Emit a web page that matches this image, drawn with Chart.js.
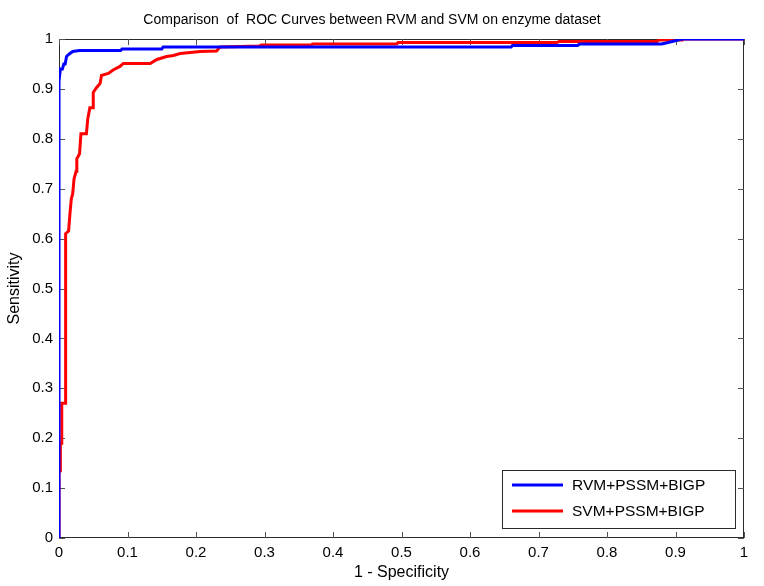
<!DOCTYPE html>
<html>
<head>
<meta charset="utf-8">
<script src="https://cdn.jsdelivr.net/npm/chart.js"></script>
<style>
  html, body { margin: 0; padding: 0; background: #fff; }
  .container { width: 764px; height: 586px; position: relative; }
</style>
</head>
<body>
<div class="container"><canvas id="myChart"></canvas></div>
<script>
const titleText = 'Comparison  of  ROC Curves between RVM and SVM on enzyme dataset';
const seriesNames = ['RVM+PSSM+BIGP', 'SVM+PSSM+BIGP'];
const tickLabels = ['0', '0.1', '0.2', '0.3', '0.4', '0.5', '0.6', '0.7', '0.8', '0.9', '1'];

// RVM curve (false positive rate / true positive rate)
const rvmFpr = [0, 0, 0.002, 0.005, 0.007, 0.009, 0.011, 0.015, 0.02, 0.03, 0.09, 0.092, 0.15, 0.152, 0.66, 0.662, 0.757, 0.76, 0.88, 0.895, 0.91, 1];
const rvmTpr = [0, 0.915, 0.94, 0.94, 0.95, 0.95, 0.965, 0.97, 0.975, 0.977, 0.977, 0.98, 0.98, 0.984, 0.984, 0.987, 0.987, 0.99, 0.99, 0.995, 1, 1];

// SVM curve
const svmFpr = [0, 0, 0.002, 0.002, 0.004, 0.004, 0.009, 0.009, 0.01, 0.01, 0.014, 0.016, 0.018, 0.02, 0.022, 0.025, 0.026, 0.03, 0.032, 0.04, 0.042, 0.045, 0.05, 0.05, 0.055, 0.06, 0.062, 0.072, 0.079, 0.089, 0.094, 0.133, 0.143, 0.157, 0.167, 0.177, 0.206, 0.23, 0.235, 0.293, 0.295, 0.369, 0.37, 0.493, 0.495, 0.727, 0.73, 0.873, 0.875, 0.91, 0.912, 1];
const svmTpr = [0, 0.135, 0.135, 0.19, 0.19, 0.27, 0.27, 0.29, 0.29, 0.61, 0.615, 0.65, 0.68, 0.69, 0.72, 0.735, 0.76, 0.77, 0.81, 0.81, 0.84, 0.862, 0.862, 0.893, 0.903, 0.911, 0.927, 0.931, 0.938, 0.945, 0.951, 0.951, 0.959, 0.965, 0.967, 0.971, 0.975, 0.976, 0.984, 0.986, 0.988, 0.988, 0.99, 0.99, 0.993, 0.993, 0.995, 0.995, 0.998, 0.998, 1, 1];

const lineColors = ['#0000ff', '#ff0000'];

function toPoints(xs, ys) {
    return xs.map((x, i) => ({ x: x, y: ys[i] }));
}

const FONT = 'Liberation Sans, Arial, Helvetica, sans-serif';

// matlab-like box with inward ticks
const boxPlugin = {
    id: 'box',
    beforeDatasetsDraw(chart) {
        const { ctx, chartArea: a, scales } = chart;
        ctx.save();
        ctx.strokeStyle = '#2b2b2b';
        ctx.lineWidth = 1;
        ctx.strokeRect(a.left + 0.5, a.top + 0.5, a.right - a.left - 1, a.bottom - a.top - 1);
        ctx.strokeStyle = '#555';
        const len = 6;
        ctx.beginPath();
        scales.x.ticks.forEach(t => {
            const px = Math.round(scales.x.getPixelForValue(t.value)) + 0.5;
            ctx.moveTo(px, a.bottom); ctx.lineTo(px, a.bottom - len);
            ctx.moveTo(px, a.top); ctx.lineTo(px, a.top + len);
        });
        scales.y.ticks.forEach(t => {
            const py = Math.round(scales.y.getPixelForValue(t.value)) + 0.5;
            ctx.moveTo(a.left, py); ctx.lineTo(a.left + len, py);
            ctx.moveTo(a.right, py); ctx.lineTo(a.right - len, py);
        });
        ctx.stroke();
        ctx.restore();
    }
};

const legendPlugin = {
    id: 'boxLegend',
    afterDatasetsDraw(chart) {
        const { ctx } = chart;
        const x0 = 502, y0 = 470, w = 233, h = 58;
        ctx.save();
        ctx.fillStyle = '#fff';
        ctx.fillRect(x0, y0, w, h);
        ctx.strokeStyle = '#2b2b2b';
        ctx.lineWidth = 1;
        ctx.strokeRect(x0 + 0.5, y0 + 0.5, w, h);
        ctx.font = '15.5px ' + FONT;
        ctx.textBaseline = 'middle';
        chart.data.datasets.forEach((ds, i) => {
            const y = y0 + 15 + i * 26;
            ctx.strokeStyle = ds.borderColor;
            ctx.lineWidth = 3;
            ctx.beginPath();
            ctx.moveTo(512, y);
            ctx.lineTo(563, y);
            ctx.stroke();
            ctx.fillStyle = '#000';
            ctx.fillText(ds.label, 572, y + 1);
        });
        ctx.restore();
    }
};

function renderChart() {
    const ctx = document.getElementById('myChart');

    new Chart(ctx, {
        type: 'line',
        data: {
            datasets: [
                {
                    label: seriesNames[0],
                    data: toPoints(rvmFpr, rvmTpr),
                    borderColor: lineColors[0],
                    borderWidth: 3,
                    pointRadius: 0,
                    fill: false,
                    tension: 0
                },
                {
                    label: seriesNames[1],
                    data: toPoints(svmFpr, svmTpr),
                    borderColor: lineColors[1],
                    borderWidth: 3,
                    pointRadius: 0,
                    fill: false,
                    tension: 0
                }
            ]
        },
        options: {
            responsive: true,
            maintainAspectRatio: false,
            animation: false,
            layout: {
                padding: { left: 0, right: 20, top: 0, bottom: 0 }
            },
            scales: {
                x: {
                    type: 'linear',
                    min: 0,
                    max: 1,
                    grid: { display: false, drawTicks: false },
                    border: { display: false },
                    ticks: {
                        stepSize: 0.1,
                        padding: 6,
                        maxRotation: 0,
                        color: '#000',
                        font: { size: 15, family: FONT },
                        callback: (v) => tickLabels[Math.round(v * 10)]
                    },
                    title: {
                        display: true,
                        text: '1 - Specificity',
                        color: '#000',
                        font: { size: 16, family: FONT },
                        padding: { top: 0, bottom: 3.7 }
                    },
                    afterFit: (s) => { s.height = 48; }
                },
                y: {
                    min: 0,
                    max: 1,
                    grid: { display: false, drawTicks: false },
                    border: { display: false },
                    ticks: {
                        stepSize: 0.1,
                        padding: 6,
                        color: '#000',
                        font: { size: 15, family: FONT },
                        callback: (v) => tickLabels[Math.round(v * 10)]
                    },
                    title: {
                        display: true,
                        text: 'Sensitivity',
                        color: '#000',
                        font: { size: 16, family: FONT },
                        padding: { top: 5.4, bottom: 0 }
                    },
                    afterFit: (s) => { s.width = 59; }
                }
            },
            plugins: {
                legend: { display: false },
                tooltip: { enabled: false },
                title: {
                    display: true,
                    text: titleText,
                    color: '#000',
                    font: { size: 14, weight: 'normal', family: FONT },
                    padding: { top: 11.6, bottom: 10.6 }
                }
            }
        },
        plugins: [boxPlugin, legendPlugin]
    });
}

document.addEventListener('DOMContentLoaded', () => {
    renderChart();
});
</script>
</body>
</html>
